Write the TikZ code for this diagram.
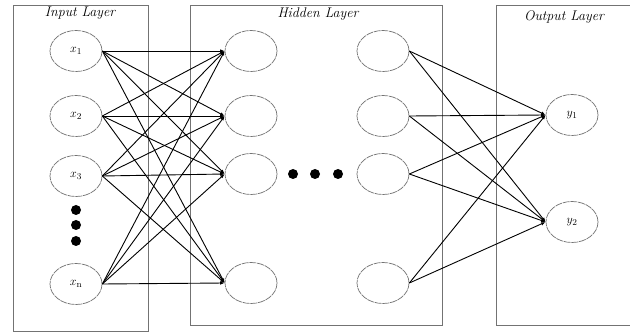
\documentclass[tikz,border=0pt]{standalone}
\usetikzlibrary{arrows.meta,shapes.geometric}
\begin{document}
\begin{tikzpicture}[x=1pt,y=-1pt,
  layerbox/.style={draw=black!55,line width=0.9pt},
  neuron/.style={draw=black!55,line width=0.7pt,dash pattern=on 7pt off 0.8pt,ellipse,minimum width=52pt,minimum height=41pt,inner sep=0pt,font=\fontsize{13}{14}\selectfont},
  link/.style={draw=black,line width=0.9pt,-{Latex[length=4.5pt,width=3.5pt]}},
  dot/.style={circle,fill=black,inner sep=0pt,minimum size=10pt},
  title/.style={font=\itshape\fontsize{14}{15}\selectfont}]
\useasboundingbox (0,0) rectangle (630,334);
\fill[white] (0,0) rectangle (630,334);

% layer frames
\draw[layerbox] (13,5) rectangle (148,331);
\draw[layerbox] (190,5) rectangle (442,325);
\draw[layerbox] (496,5) -- (496,325) -- (640,325);
\draw[layerbox] (496,5) -- (640,5);

\node[title] (tin) at (80,13) {Input Layer};
\node[title] (thid) at (318,14) {Hidden Layer};
\node[title] (tout) at (564,17) {Output Layer};

% input neurons
\node[neuron] (i1) at (76,51) {$x_1$};
\node[neuron] (i2) at (76,116) {$x_2$};
\node[neuron] (i3) at (76,176) {$x_3$};
\node[neuron] (i4) at (76,284) {$x_\mathrm{n}$};
\node[dot] (d1) at (76,210) {};
\node[dot] (d2) at (76,225) {};
\node[dot] (d3) at (76,241) {};

% hidden neurons, first and last column
\node[neuron] (h1) at (251,51) {};
\node[neuron] (h2) at (251,116) {};
\node[neuron] (h3) at (251,174) {};
\node[neuron] (h4) at (251,283) {};
\node[neuron] (g1) at (383,51) {};
\node[neuron] (g2) at (383,116) {};
\node[neuron] (g3) at (383,174) {};
\node[neuron] (g4) at (383,283) {};
\node[dot] (e1) at (293,174) {};
\node[dot] (e2) at (315,174) {};
\node[dot] (e3) at (338,174) {};

% output neurons
\node[neuron] (o1) at (572,115) {$y_1$};
\node[neuron] (o2) at (572,222) {$y_2$};

% fully connected links
\foreach \a in {1,2,3,4}
  \foreach \b in {1,2,3,4}
    \draw[link] (i\a.east) -- (h\b.west);
\foreach \a in {1,2,3,4}
  \foreach \b in {1,2}
    \draw[link] (g\a.east) -- (o\b.west);
\end{tikzpicture}
\end{document}
